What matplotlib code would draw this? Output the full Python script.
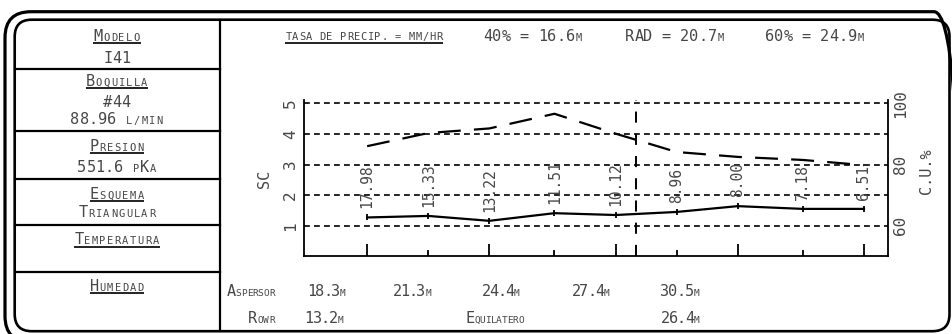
import matplotlib
matplotlib.use("Agg")
import matplotlib.pyplot as plt
from matplotlib.patches import FancyBboxPatch

# ---- sprinkler performance data -------------------------------------------
spacing_m = [18.3, 19.8, 21.3, 22.9, 24.4, 25.9, 27.4, 29.0, 30.5]
sc_values = [1.27, 1.32, 1.16, 1.41, 1.35, 1.45, 1.64, 1.55, 1.55]
cu_pct = [86.0, 90.3, 91.8, 96.6, 90.1, 84.1, 82.5, 81.5, 79.8]
precip_mmhr = [17.98, 15.33, 13.22, 11.51, 10.12, 8.96, 8.00, 7.18, 6.51]

aspersor_m = [18.3, 21.3, 24.4, 27.4, 30.5]
rowr_labels = ["13.2{m}", "E{quilatero}", "26.4{m}"]
sc_ticks = [1, 2, 3, 4, 5]
cu_ticks = [60, 80, 100]
radius_marks = [("40%", 16.6), ("RAD", 20.7), ("60%", 24.9)]

info_rows = [
    ("M{odelo}", ["I41"]),
    ("B{oquilla}", ["#44", "88.96 {l/min}"]),
    ("P{resion}", ["551.6 {p}K{a}"]),
    ("E{squema}", ["T{riangular}"]),
    ("T{emperatura}", []),
    ("H{umedad}", []),
]

# ---- styling ---------------------------------------------------------------
plt.rcParams["lines.scale_dashes"] = False
FONT = "DejaVu Sans Mono"
TXT = "#474747"
W, H = 952, 334

fig = plt.figure(figsize=(W / 100, H / 100), dpi=100)

# Pixel-space layer (origin bottom-left) for frame, info panel and free text
bg = fig.add_axes([0, 0, 1, 1])
bg.set_xlim(0, W)
bg.set_ylim(0, H)
bg.axis("off")


def Y(y_from_top):
    return H - y_from_top


def parse_caps(s):
    """Split markup into (char, is_big); text inside {} becomes small caps."""
    out, small = [], False
    for ch in s:
        if ch == "{":
            small = True
            continue
        if ch == "}":
            small = False
            continue
        out.append((ch.upper() if small else ch, not small))
    return out


def caps_text(x, y, s, ha="center", big=11, small=7.5, adv_big=9.2,
              adv_small=7.6, underline=None, color=TXT):
    chars = parse_caps(s)
    total = sum(adv_big if b else adv_small for _, b in chars)
    if ha == "center":
        x0 = x - total / 2
    elif ha == "right":
        x0 = x - total
    else:
        x0 = x
    cx = x0
    for ch, b in chars:
        a = adv_big if b else adv_small
        if ch != " ":
            bg.text(cx + a / 2, Y(y), ch, fontsize=big if b else small,
                    ha="center", va="baseline", family=FONT, color=color)
        cx += a
    if underline is not None:
        bg.plot([x0, x0 + total], [Y(y + underline)] * 2,
                color="#222222", lw=1.4, solid_capstyle="butt")


def frame(x0, top, x1, bottom, r, lw):
    bg.add_patch(FancyBboxPatch((x0, Y(bottom)), x1 - x0, bottom - top,
                                boxstyle=f"round,pad=0,rounding_size={r}",
                                fill=False, ec="black", lw=lw))


# Double rounded frame
frame(5, 11.7, 960, 342, 26, 2.3)
frame(14.7, 19.7, 949.5, 331.2, 17, 1.9)

# Info panel separators
bg.plot([219.5, 219.5], [Y(19.7), Y(331.2)], color="black", lw=1.6)
for ysep in [69, 131, 179, 225, 272]:
    bg.plot([14.7, 219.5], [Y(ysep)] * 2, color="black", lw=1.6)

head_base = [40.7, 86.0, 150.7, 198.7, 244.3, 291.0]
sub_base = [[63.3], [106.7, 124.0], [171.7], [217.3], [], []]
for (head, subs), hb, sbs in zip(info_rows, head_base, sub_base):
    caps_text(117, hb, head, underline=2.4)
    for line, sb in zip(subs, sbs):
        caps_text(117, sb, line)

# Header
caps_text(285, 40.0, "{tasa de precip. = mm/hr}", ha="left",
          adv_small=6.85, underline=2.7)
for (name, val), xl in zip(radius_marks, [483, 625, 765]):
    caps_text(xl, 40.7, f"{name} = {val}{{m}}", ha="left")

# Spacing rows under the chart
caps_text(227, 296, "A{spersor}", ha="left", adv_big=8.5, adv_small=5.6,
          small=6.8)
for val, xc in zip(aspersor_m, [327, 412, 501, 591, 680]):
    caps_text(xc, 296, f"{val}{{m}}", adv_big=8.0, adv_small=6.0, small=6.8)
caps_text(275, 323.3, "R{owr}", ha="right", adv_big=8.5, adv_small=6.0,
          small=6.8)
for lab, xc in zip(rowr_labels, [324, 495, 680]):
    caps_text(xc, 323.3, lab, adv_big=8.0, adv_small=5.5, small=6.8)

# ---- chart -----------------------------------------------------------------
ax = fig.add_axes([304 / W, (H - 256) / H, 584 / W, 156 / H])
ax.set_facecolor("none")
ax.set_xlim(16.75, 31.09)
ax.set_ylim(0.01, 5.11)

for side in ["top", "right"]:
    ax.spines[side].set_visible(False)
for side in ["left", "bottom"]:
    ax.spines[side].set_linewidth(1.3)

ax.set_yticks(sc_ticks)
ax.set_yticklabels([str(t) for t in sc_ticks], rotation=90, va="center",
                   family=FONT, fontsize=11.5, color=TXT)
ax.tick_params(axis="y", length=0, pad=4.3)

ax.set_xticks(aspersor_m)
ax.set_xticks([s for s in spacing_m if s not in aspersor_m], minor=True)
ax.tick_params(axis="x", which="both", direction="in", labelbottom=False,
               width=1.3, color="black")
ax.tick_params(axis="x", which="major", length=8.6)
ax.tick_params(axis="x", which="minor", length=4.3)

for t in sc_ticks:
    ax.axhline(t, color="black", lw=1.2, linestyle=(0, (4.2, 3.0)), zorder=1)
ax.axvline(radius_marks[2][1], color="black", lw=1.4,
           linestyle=(0, (8.0, 8.0)), zorder=1)

ax.plot(spacing_m, sc_values, color="black", lw=1.6, zorder=3)
ax.plot(spacing_m, sc_values, ls="none", marker="|", ms=4.5, mew=1.3,
        color="black", zorder=3)
for x, s, p in zip(spacing_m, sc_values, precip_mmhr):
    ax.annotate(f"{p:.2f}", (x, s), xytext=(0, 6.5), textcoords="offset points",
                rotation=90, ha="center", va="bottom", family=FONT,
                fontsize=10.5, color=TXT, zorder=4)

ax2 = ax.twinx()
ax2.set_ylim(50 + 10 * 0.01, 50 + 10 * 5.11)
for side in ["top", "left", "bottom"]:
    ax2.spines[side].set_visible(False)
ax2.spines["right"].set_linewidth(1.3)
ax2.set_yticks(cu_ticks)
ax2.set_yticklabels([str(t) for t in cu_ticks], rotation=90, va="center",
                    family=FONT, fontsize=11.5, color=TXT)
ax2.tick_params(axis="y", length=0, pad=3.6)
ax2.plot(spacing_m, cu_pct, color="black", lw=1.6,
         linestyle=(0, (16.5, 9.5)), zorder=3)

bg.text(265, Y(179), "SC", rotation=90, ha="center", va="center",
        family=FONT, fontsize=11, color=TXT)
bg.text(927, Y(171.5), "C.U.%", rotation=90, ha="center", va="center",
        family=FONT, fontsize=11, color=TXT)

fig.savefig("out.png", dpi=100)
